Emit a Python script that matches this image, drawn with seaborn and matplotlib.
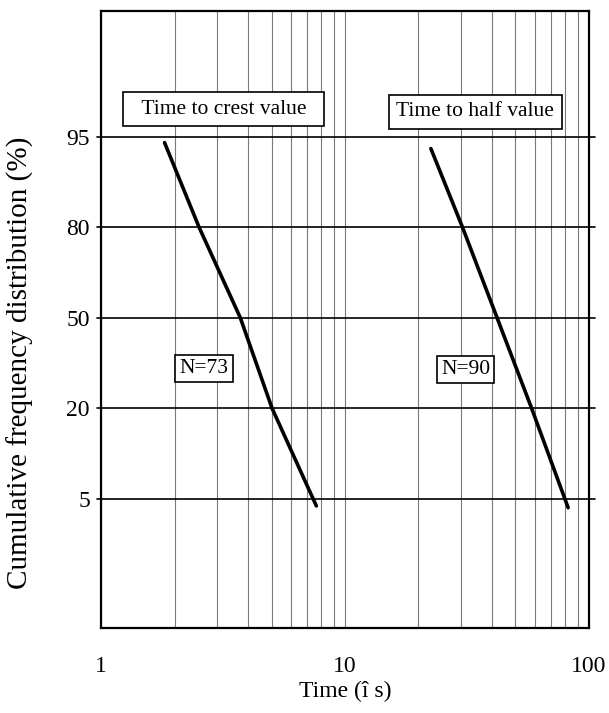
import numpy as np
import pandas as pd
import matplotlib
matplotlib.use("Agg")
import matplotlib.pyplot as plt
import seaborn as sns

# ---- data ----
levels = [5, 20, 50, 80, 95]                 # probability-paper y ticks (%)
x_ticks = [1, 10, 100]
crest_time = [1.82, 2.52, 3.72, 5.02, 7.63]  # time to crest (µs)
crest_pct = [94.0, 80, 50, 20, 3.8]
half_time = [22.5, 30.3, 42.0, 58.2, 82.2]   # time to half value (µs)
half_pct = [93.0, 80, 50, 20, 3.5]
labels_box = ["Time to crest value", "Time to half value"]
n_labels = ["N=73", "N=90"]

sns.set_style("white")
plt.rcParams['font.family'] = ['Liberation Serif', 'DejaVu Serif']
for k in ['text.color', 'axes.labelcolor', 'xtick.color', 'ytick.color']:
    plt.rcParams[k] = 'black'

pos = np.arange(len(levels), dtype=float)
lv = np.array(levels, dtype=float)


def fwd(p):
    p = np.asarray(p, dtype=float)
    out = np.interp(p, lv, pos)
    out = np.where(p < lv[0], (p - lv[0]) / (lv[1] - lv[0]), out)
    out = np.where(p > lv[-1], pos[-1] + (p - lv[-1]) / (lv[-1] - lv[-2]), out)
    return out


def inv(i):
    i = np.asarray(i, dtype=float)
    out = np.interp(i, pos, lv)
    out = np.where(i < 0, lv[0] + i * (lv[1] - lv[0]), out)
    out = np.where(i > pos[-1], lv[-1] + (i - pos[-1]) * (lv[-1] - lv[-2]), out)
    return out


fig = plt.figure(figsize=(6.09, 7.13), dpi=100)
ax = fig.add_axes([0.166, 0.119, 0.801, 0.866])

ax.set_xscale('log')
ax.set_yscale('function', functions=(fwd, inv))
ax.set_xlim(1, 100)
ax.set_ylim(float(inv(-1.43)), float(inv(5.39)))

# vertical log grid
ax.xaxis.set_major_locator(matplotlib.ticker.FixedLocator(x_ticks))
ax.xaxis.set_minor_locator(matplotlib.ticker.LogLocator(base=10, subs=np.arange(2, 10)))
ax.xaxis.set_minor_formatter(matplotlib.ticker.NullFormatter())
ax.xaxis.set_major_formatter(matplotlib.ticker.FixedFormatter([str(v) for v in x_ticks]))
ax.grid(which='both', axis='x', color='#7a7a7a', lw=0.8)
ax.grid(False, axis='y')

# horizontal lines
for lvl in levels:
    ax.axhline(lvl, xmin=-0.008, xmax=1.012, color='black', lw=1.2, clip_on=False, zorder=2)

ax.set_yticks(levels)
ax.yaxis.set_minor_locator(matplotlib.ticker.NullLocator())
ax.set_yticklabels([str(v) for v in levels])
ax.tick_params(axis='y', length=0, pad=8, labelsize=17)
ax.tick_params(axis='x', which='both', length=0, pad=20, labelsize=17)

for s in ax.spines.values():
    s.set_color('black')
    s.set_linewidth(1.6)

sns.lineplot(x=crest_time, y=crest_pct, sort=False, color='black', lw=2.6, ax=ax, zorder=3)
sns.lineplot(x=half_time, y=half_pct, sort=False, color='black', lw=2.6, ax=ax, zorder=3)

bbox = dict(boxstyle='square,pad=0.35', fc='white', ec='black', lw=1.2)
ax.text(3.18, 99.5, "  " + labels_box[0] + "  ", ha='center', va='center', fontsize=15.5, bbox=bbox, zorder=4)
ax.text(34.2, 99.1, labels_box[1], ha='center', va='center', fontsize=15.5, bbox=bbox, zorder=4)
bbox2 = dict(boxstyle='square,pad=0.2', fc='white', ec='black', lw=1.2)
ax.text(2.64, 33.2, n_labels[0], ha='center', va='center', fontsize=15.5, bbox=bbox2, zorder=4)
ax.text(31.2, 32.8, n_labels[1], ha='center', va='center', fontsize=15.5, bbox=bbox2, zorder=4)

ax.set_xlabel("Time (\u00ee s)", fontsize=17, labelpad=3)
ax.set_ylabel("Cumulative frequency distribution (%)", fontsize=21)
ax.yaxis.set_label_coords(-0.137, 0.43)

fig.savefig("out.png", dpi=100)
